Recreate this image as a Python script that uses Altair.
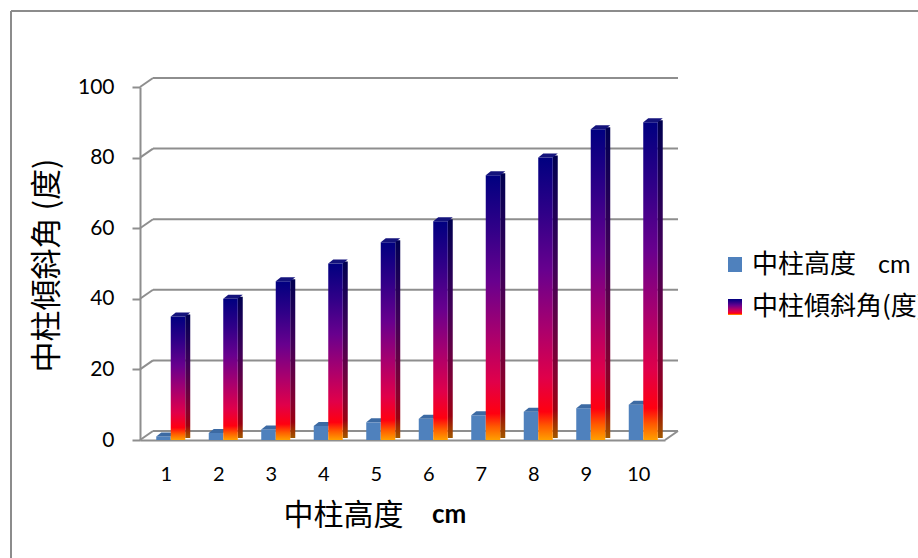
import altair as alt
import pandas as pd

# ---- data ----
categories = ["1", "2", "3", "4", "5", "6", "7", "8", "9", "10"]
pillar_height = [1, 2, 3, 4, 5, 6, 7, 8, 9, 10]
tilt_angle = [35, 40, 45, 50, 56, 62, 75, 80, 88, 90]
y_ticks = [0, 20, 40, 60, 80, 100]

x_title = "中柱高度"
x_unit = "cm"
y_title = "中柱傾斜角  (度)"
legend_height = "中柱高度"
legend_height_unit = "cm"
legend_angle = "中柱傾斜角(度)"

bars = pd.DataFrame({"cat": categories, "h": pillar_height, "a": tilt_angle})
grid = pd.DataFrame({"v": y_ticks})

# ---- geometry / style ----
W, H = 525, 353          # front plane of the plot
DX, DY = 13, -9          # depth shift of the back wall
BAR_W = 14.5
GRID = "#8E8E8E"
CJK = "Noto Sans CJK TC"
LAT = "Lato"
BLUE = "#4F81BD"


def grad(stops):
    return alt.Gradient(
        gradient="linear", x1=0, x2=0, y1=1, y2=0,
        stops=[alt.GradientStop(offset=o, color=c) for o, c in stops],
    )


front_grad = grad([
    (0.0, "#FFA000"), (0.05, "#FF5A00"), (0.1, "#FF0010"), (0.22, "#E0004A"),
    (0.4, "#A8006E"), (0.6, "#68008E"), (0.8, "#300088"), (1.0, "#000080"),
])
side_grad = grad([
    (0.0, "#A05800"), (0.05, "#A03000"), (0.1, "#9A0010"), (0.22, "#86002E"),
    (0.4, "#640044"), (0.6, "#400058"), (0.8, "#1E0056"), (1.0, "#000050"),
])

y_scale = alt.Scale(domain=[0, 100], nice=False, zero=True)
x_scale = alt.Scale(domain=categories, paddingInner=0, paddingOuter=0)

x_axis = alt.Axis(
    title=x_title, labelAngle=0, domain=True, domainColor=GRID, domainWidth=2,
    ticks=False, labelPadding=24, labelFontSize=20, labelFont=LAT,
    labelColor="black", titleFont=CJK, titleFontSize=30,
    titleFontWeight="normal", titleColor="black", titleX=143, titleY=75,
    titleAlign="left", titleBaseline="middle",
)
y_axis = alt.Axis(
    values=y_ticks, grid=False, domainColor=GRID, domainWidth=2,
    tickColor=GRID, tickWidth=2, tickSize=8, labelPadding=18,
    labelFontSize=21, labelFont=LAT, labelColor="black",
    title=y_title, titleFont=CJK, titleFontSize=31, titleFontWeight="normal",
    titleColor="black", titleAngle=270, titleX=-93, titleY=178,
    titleAlign="center", titleBaseline="middle",
)

X = alt.X("cat:O", scale=x_scale, axis=x_axis)


def Y(field):
    return alt.Y(field, scale=y_scale, axis=y_axis)


# back wall gridlines and the short connectors to the front axis
back_grid = alt.Chart(grid).mark_rule(color=GRID, strokeWidth=2, yOffset=DY).encode(
    x=alt.value(DX), x2=alt.value(W + DX), y=Y("v:Q"),
)
connectors = alt.Chart(grid).mark_rule(color=GRID, strokeWidth=2, y2Offset=DY).encode(
    x=alt.value(0), x2=alt.value(DX), y=Y("v:Q"), y2=alt.Y2("v"),
)
floor_edge = alt.Chart(pd.DataFrame({"k": [0]})).mark_rule(color=GRID, strokeWidth=2).encode(
    x=alt.value(W), x2=alt.value(W + DX), y=alt.value(H), y2=alt.value(H + DY),
)

# column height series (blue)
blue_front = alt.Chart(bars).mark_bar(width=BAR_W, xOffset=-2.75, color=BLUE).encode(
    x=X, y=Y("h:Q"),
)
top_shape = "M -0.975 0.2 L 0.475 0.2 L 0.975 -0.2 L -0.475 -0.2 Z"
blue_top = alt.Chart(bars).mark_point(
    shape=top_shape, size=400, filled=True, opacity=1, strokeWidth=0,
    color="#3C6AA3", xOffset=-0.25, yOffset=-2,
).encode(x=X, y=Y("h:Q"))

# tilt angle series (gradient)
red_side = alt.Chart(bars).mark_bar(
    width=5, xOffset=21.5, yOffset=-2, y2Offset=-2, color=side_grad,
).encode(x=X, y=Y("a:Q"))
red_front = alt.Chart(bars).mark_bar(width=BAR_W, xOffset=11.75, color=front_grad).encode(
    x=X, y=Y("a:Q"),
)
red_top = alt.Chart(bars).mark_point(
    shape=top_shape, size=400, filled=True, opacity=1, strokeWidth=0,
    color="#14137C", xOffset=14.25, yOffset=-2,
).encode(x=X, y=Y("a:Q"))

one = pd.DataFrame({"k": [0]})

# bold unit next to the x title
x_unit_text = alt.Chart(pd.DataFrame({"t": [x_unit]})).mark_text(
    align="left", baseline="middle", font=LAT, fontSize=26, fontWeight="bold",
    color="black",
).encode(text="t:N", x=alt.value(292), y=alt.value(428))

# legend
leg_blue = alt.Chart(one).mark_rect(color=BLUE).encode(
    x=alt.value(588), x2=alt.value(602), y=alt.value(170), y2=alt.value(185),
)
leg_grad = alt.Chart(one).mark_rect(color=front_grad).encode(
    x=alt.value(588), x2=alt.value(602), y=alt.value(212), y2=alt.value(228),
)
leg_text1 = alt.Chart(pd.DataFrame({"t": [legend_height]})).mark_text(
    align="left", baseline="middle", font=CJK, fontSize=26, color="black",
).encode(text="t:N", x=alt.value(612), y=alt.value(178))
leg_unit1 = alt.Chart(pd.DataFrame({"t": [legend_height_unit]})).mark_text(
    align="left", baseline="middle", font=LAT, fontSize=25, color="black",
).encode(text="t:N", x=alt.value(738), y=alt.value(178))
leg_text2 = alt.Chart(pd.DataFrame({"t": [legend_angle]})).mark_text(
    align="left", baseline="middle", font=CJK, fontSize=26, color="black",
).encode(text="t:N", x=alt.value(612), y=alt.value(220))

# outer frame
frame_left = alt.Chart(one).mark_rule(color="#8C8C8C", strokeWidth=2).encode(
    x=alt.value(-129), y=alt.value(-76), y2=alt.value(H + 140),
)
frame_top = alt.Chart(one).mark_rule(color="#8C8C8C", strokeWidth=2).encode(
    x=alt.value(-129), x2=alt.value(W + 270), y=alt.value(-76),
)

chart = alt.layer(
    frame_left, frame_top,
    back_grid, connectors, floor_edge,
    blue_front, blue_top,
    red_side, red_front, red_top,
    x_unit_text,
    leg_blue, leg_grad, leg_text1, leg_unit1, leg_text2,
).properties(
    width=W, height=H,
    autosize=alt.AutoSizeParams(type="none"),
    padding={"left": 140, "top": 87, "right": 918 - 140 - W, "bottom": 558 - 87 - H},
    background="white",
).configure_view(stroke=None)

chart.save("out.html", embed_options={"renderer": "svg", "actions": False})
